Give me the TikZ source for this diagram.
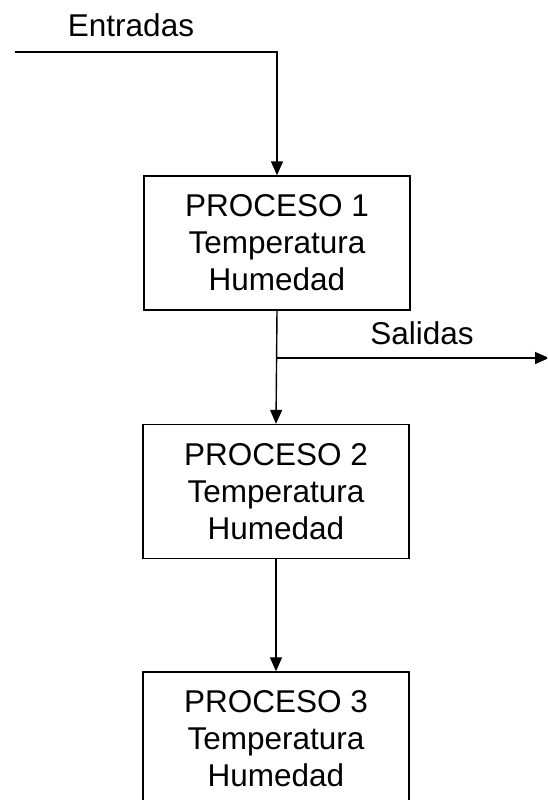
\documentclass[tikz,border=0pt]{standalone}
\usepackage{fontspec}
\setmainfont{Liberation Sans}
\usetikzlibrary{arrows.meta}

\begin{document}
\begin{tikzpicture}[x=1pt,y=-1pt,
  procbox/.style={draw,line width=1.4pt,minimum width=266pt,minimum height=134pt,
    align=center,inner sep=0pt,font=\fontsize{31.5}{37}\selectfont},
  lbl/.style={inner sep=0pt,anchor=base,font=\fontsize{31.5}{37}\selectfont},
  flecha/.style={line width=1.4pt,-{Triangle[width=12pt,length=14pt]}}]
\useasboundingbox (0,0) rectangle (547,800);
\fill[white] (0,0) rectangle (547,800);
\clip (0,0) rectangle (547,800);

\node[procbox] (p1) at (277,243) {PROCESO 1\\Temperatura\\Humedad};
\node[procbox] (p2) at (276,491.5) {PROCESO 2\\Temperatura\\Humedad};
\node[procbox] (p3) at (276,739) {PROCESO 3\\Temperatura\\Humedad};

\coordinate (entrada) at (15,52);
\coordinate (rama) at (277,358);
\coordinate (salida) at (549,358);

\node[lbl] (ent) at (131,37) {Entradas};
\node[lbl] (sal) at (422,344) {Salidas};

\draw[flecha] (entrada) -| (p1.north);
\draw[flecha] (p1.south) -- (p2.north);
\draw[flecha] (rama) -- (salida);
\draw[flecha] (p2.south) -- (p3.north);

\end{tikzpicture}
\end{document}
